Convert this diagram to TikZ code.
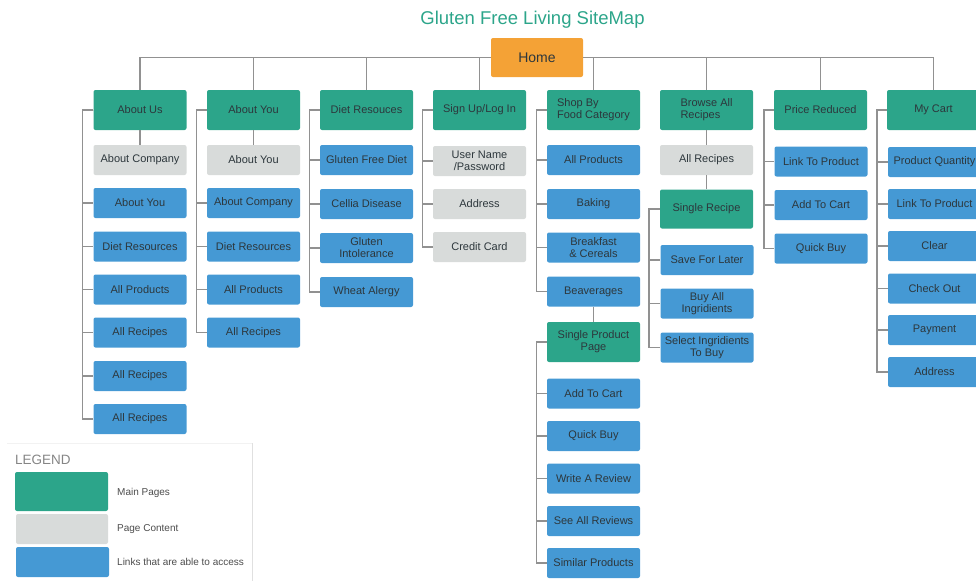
\documentclass[tikz,border=0pt]{standalone}
\usepackage{fontspec}
\setmainfont{Liberation Sans}
\definecolor{cgreen}{RGB}{44,165,138}
\definecolor{cgray}{RGB}{216,219,218}
\definecolor{cblue}{RGB}{69,153,212}
\definecolor{corange}{RGB}{244,162,54}
\definecolor{cline}{RGB}{145,145,145}
\definecolor{ctext}{RGB}{45,55,60}
\begin{document}
\begin{tikzpicture}[x=1pt,y=-1pt,
  box/.style={rounded corners=2pt, minimum width=93pt, minimum height=30pt, inner sep=0pt, align=center, text=ctext, font=\fontsize{11}{12}\selectfont},
  mainbox/.style={box, fill=cgreen, minimum height=40pt},
  graybox/.style={box, fill=cgray},
  bluebox/.style={box, fill=cblue},
  conn/.style={draw=cline, line width=1.5pt},
  legtext/.style={anchor=west, inner sep=0pt, text=black!70, font=\fontsize{10}{12}\selectfont}]
\useasboundingbox (0,0) rectangle (976,581);

% title and home
\node[text=cgreen, font=\fontsize{18.5}{20}\selectfont] (title) at (532.5,19.5) {Gluten Free Living SiteMap};
\node[box, fill=corange, minimum width=92pt, minimum height=39pt, font=\fontsize{14}{16}\selectfont] (home) at (537,57.5) {Home};

% column 1
\node[mainbox] (m1) at (140,110) {About Us};
\node[graybox] (m1a) at (140,160) {About Company};
\node[bluebox] (m1b) at (140,203) {About You};
\node[bluebox] (m1c) at (140,246.5) {Diet Resources};
\node[bluebox] (m1d) at (140,289.5) {All Products};
\node[bluebox] (m1e) at (140,332.5) {All Recipes};
\node[bluebox] (m1f) at (140,376) {All Recipes};
\node[bluebox] (m1g) at (140,419) {All Recipes};

% column 2
\node[mainbox] (m2) at (253.5,110) {About You};
\node[graybox] (m2a) at (253.5,160) {About You};
\node[bluebox] (m2b) at (253.5,203) {About Company};
\node[bluebox] (m2c) at (253.5,246.5) {Diet Resources};
\node[bluebox] (m2d) at (253.5,289.5) {All Products};
\node[bluebox] (m2e) at (253.5,332.5) {All Recipes};

% column 3
\node[mainbox] (m3) at (366.5,110) {Diet Resouces};
\node[bluebox] (m3a) at (366.5,160) {Gluten Free Diet};
\node[bluebox] (m3b) at (366.5,204) {Cellia Disease};
\node[bluebox] (m3c) at (366.5,248) {Gluten\\Intolerance};
\node[bluebox] (m3d) at (366.5,292) {Wheat Alergy};

% column 4
\node[mainbox] (m4) at (479.5,110) {Sign Up/Log In};
\node[graybox] (m4a) at (479.5,161) {User Name\\/Password};
\node[graybox] (m4b) at (479.5,204) {Address};
\node[graybox] (m4c) at (479.5,247) {Credit Card};

% column 5
\node[mainbox, align=left] (m5) at (593.5,110) {Shop By\\Food Category};
\node[bluebox] (m5a) at (593.5,160) {All Products};
\node[bluebox] (m5b) at (593.5,204) {Baking};
\node[bluebox] (m5c) at (593.5,247.5) {Breakfast\\\& Cereals};
\node[bluebox] (m5d) at (593.5,291.5) {Beaverages};
\node[mainbox] (sp) at (593.5,342) {Single Product\\Page};
\node[bluebox] (sp1) at (593.5,393.5) {Add To Cart};
\node[bluebox] (sp2) at (593.5,436) {Quick Buy};
\node[bluebox] (sp3) at (593.5,478.5) {Write A Review};
\node[bluebox] (sp4) at (593.5,521) {See All Reviews};
\node[bluebox] (sp5) at (593.5,563) {Similar Products};

% column 6
\node[mainbox, align=left] (m6) at (706.5,110) {Browse All\\Recipes};
\node[graybox] (m6a) at (706.5,160) {All Recipes};
\node[mainbox, minimum height=39pt] (sr) at (706.5,209) {Single Recipe};
\node[bluebox] (sr1) at (707,260) {Save For Later};
\node[bluebox] (sr2) at (707,303.5) {Buy All\\Ingridients};
\node[bluebox] (sr3) at (707,347.5) {Select Ingridients\\To Buy};

% column 7
\node[mainbox] (m7) at (820.5,110) {Price Reduced};
\node[bluebox] (m7a) at (821,161.5) {Link To Product};
\node[bluebox] (m7b) at (821,205) {Add To Cart};
\node[bluebox] (m7c) at (821,248.5) {Quick Buy};

% column 8
\node[mainbox] (m8) at (933.5,110) {My Cart};
\node[bluebox] (m8a) at (934.5,162) {Product Quantity};
\node[bluebox] (m8b) at (934.5,204) {Link To Product};
\node[bluebox] (m8c) at (934.5,246) {Clear};
\node[bluebox] (m8d) at (934.5,288.5) {Check Out};
\node[bluebox] (m8e) at (934.5,330) {Payment};
\node[bluebox] (m8f) at (934.5,372) {Address};

% bus from home
\foreach \m in {m1,m2,m3,m4} \draw[conn] (\m.north) |- (home.west);
\foreach \m in {m5,m6,m7,m8} \draw[conn] (\m.north) |- (home.east);

% vertical links
\draw[conn] (m1.south) -- (m1a.north);
\draw[conn] (m2.south) -- (m2a.north);
\draw[conn] (m5d.south) -- (sp.north);
\draw[conn] (m6.south) -- (m6a.north);
\draw[conn] (m6a.south) -- (sr.north);

% trunks
\foreach \c in {m1b,m1c,m1d,m1e,m1f,m1g} \draw[conn] (m1.west) -- ++(-11,0) |- (\c.west);
\foreach \c in {m2b,m2c,m2d,m2e} \draw[conn] (m2.west) -- ++(-10.5,0) |- (\c.west);
\foreach \c in {m3a,m3b,m3c,m3d} \draw[conn] (m3.west) -- ++(-10.5,0) |- (\c.west);
\foreach \c in {m4a,m4b,m4c} \draw[conn] (m4.west) -- ++(-10.5,0) |- (\c.west);
\foreach \c in {m5a,m5b,m5c,m5d} \draw[conn] (m5.west) -- ++(-10.5,0) |- (\c.west);
\foreach \c in {sp1,sp2,sp3,sp4,sp5} \draw[conn] (sp.west) -- ++(-10.5,0) |- (\c.west);
\foreach \c in {sr1,sr2,sr3} \draw[conn] (sr.west) -- ++(-11,0) |- (\c.west);
\foreach \c in {m7a,m7b,m7c} \draw[conn] (m7.west) -- ++(-10,0) |- (\c.west);
\foreach \c in {m8a,m8b,m8c,m8d,m8e,m8f} \draw[conn] (m8.west) -- ++(-10,0) |- (\c.west);

% legend
\draw[draw=black!5, line width=0.6pt] (7,443) -- (252,443);
\draw[draw=black!12, line width=0.8pt] (252,443) -- (252,581);
\node[anchor=west, inner sep=0pt, text=black!48, font=\fontsize{13.5}{15}\selectfont] (legend) at (15,459.5) {LEGEND};
\node[mainbox, minimum height=39pt] (lg1) at (61.5,491.5) {};
\node[graybox, minimum width=92pt] (lg2) at (62,529) {};
\node[bluebox] (lg3) at (62.5,562) {};
\node[legtext] (lt1) at (117,493) {Main Pages};
\node[legtext] (lt2) at (117,529) {Page Content};
\node[legtext] (lt3) at (117,562) {Links that are able to access};
\end{tikzpicture}
\end{document}
